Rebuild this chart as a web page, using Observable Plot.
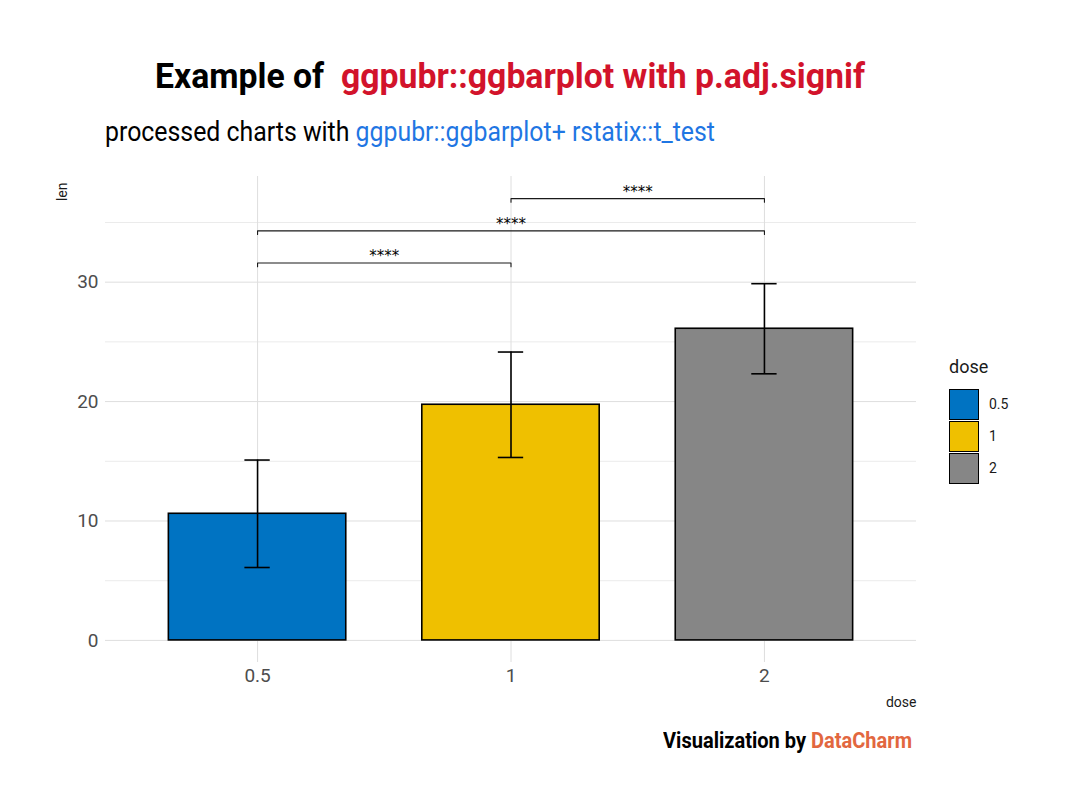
<!DOCTYPE html>
<html>
<head>
<meta charset="utf-8">
<script src="https://cdn.jsdelivr.net/npm/d3@7"></script>
<script src="https://cdn.jsdelivr.net/npm/@observablehq/plot@0.6"></script>
<style>
  body { margin: 0; background: #fff; font-family: Roboto, "Noto Sans", sans-serif; }
  #page { position: relative; width: 1080px; height: 810px; overflow: hidden; background: #fff; }
  .abs { position: absolute; white-space: nowrap; line-height: 1; }
  #chart { position: absolute; left: 0; top: 156px; }
  .legrow { display: flex; align-items: center; height: 32px; }
  .key { width: 28px; height: 29px; border: 1.5px solid #000; box-sizing: content-box; }
  .leglab { margin-left: 10px; font-size: 14px; color: #1a1a1a; }
</style>
</head>
<body>
<div id="page">
  <div id="title" class="abs" style="left:155px; top:59px; font-size:35px; font-weight:700; color:#000;">Example of&nbsp;&nbsp;<span style="color:#D2132B">ggpubr::ggbarplot with p.adj.signif</span></div>
  <div id="subtitle" class="abs" style="left:105px; top:119px; font-size:27px; color:#000;">processed charts with <span style="color:#1F76E3">ggpubr::ggbarplot+ rstatix::t_test</span></div>
  <div id="chart"></div>
  <div id="legend" class="abs" style="left:949px; top:358px;"></div>
  <div id="caption" class="abs" style="left:663px; top:730px; font-size:22px; font-weight:700; color:#000;">Visualization by <span style="color:#E2673F">DataCharm</span></div>
</div>
<script>
// ---- data ----
const doses = ["0.5", "1", "2"];
const lenMean = [10.605, 19.735, 26.1];
const lenSD = [4.4998, 4.4154, 3.7742];
const doseColors = ["#0073C2", "#EFC000", "#868686"];
const group1 = ["0.5", "0.5", "1"];
const group2 = ["1", "2", "2"];
const bracketY = [31.6, 34.3, 37.0];
const signifLabels = ["****", "****", "****"];
const yMajor = [0, 10, 20, 30];
const yMinor = [5, 15, 25, 35];

// ---- derived tables ----
const pos = d => doses.indexOf(d) + 1;
const bars = doses.map((d, k) => ({dose: d, x: k + 1, mean: lenMean[k], sd: lenSD[k]}));
const tip = 0.3;
const bracketPts = [];
group1.forEach((g, k) => {
  const a = pos(g), b = pos(group2[k]), y = bracketY[k];
  bracketPts.push({k, x: a, y: y - tip}, {k, x: a, y}, {k, x: b, y}, {k, x: b, y: y - tip});
});
const sigs = group1.map((g, k) => ({x: (pos(g) + pos(group2[k])) / 2, y: bracketY[k], label: signifLabels[k]}));

const chart = Plot.plot({
  width: 1080,
  height: 560,
  marginLeft: 105,
  marginRight: 164,
  marginTop: 20,
  marginBottom: 54,
  style: {fontFamily: "Roboto, sans-serif", fontSize: "19px", color: "#4d4d4d", background: "transparent"},
  x: {domain: [0.4, 3.6], ticks: [1, 2, 3], tickFormat: i => doses[i - 1], tickSize: 0, tickPadding: 6, label: null},
  y: {domain: [-1.85, 38.85], ticks: yMajor, tickSize: 0, tickPadding: 7, label: null},
  color: {domain: doses, range: doseColors},
  marks: [
    Plot.ruleY(yMinor, {stroke: "#ebebeb", strokeWidth: 1}),
    Plot.ruleY(yMajor, {stroke: "#dedede", strokeWidth: 1}),
    Plot.ruleX([1, 2, 3], {stroke: "#dedede", strokeWidth: 1}),
    Plot.rectY(bars, {x1: d => d.x - 0.35, x2: d => d.x + 0.35, y: "mean", fill: "dose", stroke: "#000", strokeWidth: 1.6}),
    Plot.ruleX(bars, {x: "x", y1: d => d.mean - d.sd, y2: d => d.mean + d.sd, stroke: "#000", strokeWidth: 1.6}),
    Plot.ruleY(bars, {y: d => d.mean + d.sd, x1: d => d.x - 0.05, x2: d => d.x + 0.05, stroke: "#000", strokeWidth: 1.6}),
    Plot.ruleY(bars, {y: d => d.mean - d.sd, x1: d => d.x - 0.05, x2: d => d.x + 0.05, stroke: "#000", strokeWidth: 1.6}),
    Plot.line(bracketPts, {x: "x", y: "y", z: "k", stroke: "#1a1a1a", strokeWidth: 1.1}),
    Plot.text(sigs, {x: "x", y: "y", text: "label", lineAnchor: "bottom", dy: -2, fontSize: 15, fontFamily: "DejaVu Sans", fill: "#000"}),
    Plot.text(["len"], {frameAnchor: "top-left", rotate: -90, textAnchor: "end", lineAnchor: "middle", dx: -43, dy: 6, fontSize: 14, fill: "#1a1a1a"}),
    Plot.text(["dose"], {frameAnchor: "bottom-right", textAnchor: "end", lineAnchor: "middle", dy: 40, fontSize: 14, fill: "#1a1a1a"})
  ]
});
document.getElementById("chart").appendChild(chart);

// ---- legend ----
const leg = document.getElementById("legend");
const lt = document.createElement("div");
lt.textContent = "dose";
lt.style.cssText = "font-size:18px;color:#1a1a1a;margin-bottom:12px;line-height:1;";
leg.appendChild(lt);
doses.forEach((d, k) => {
  const row = document.createElement("div");
  row.className = "legrow";
  const key = document.createElement("div");
  key.className = "key";
  key.style.background = doseColors[k];
  const lab = document.createElement("div");
  lab.className = "leglab";
  lab.textContent = d;
  row.appendChild(key); row.appendChild(lab);
  leg.appendChild(row);
});

// ---- fit condensed-looking headings ----
function fit(id, target, origin) {
  const el = document.getElementById(id);
  const w = el.getBoundingClientRect().width;
  el.style.transformOrigin = origin;
  el.style.transform = `scaleX(${target / w})`;
}
fit("title", 710, "left center");
fit("subtitle", 610, "left center");
fit("caption", 249, "left center");
</script>
</body>
</html>
